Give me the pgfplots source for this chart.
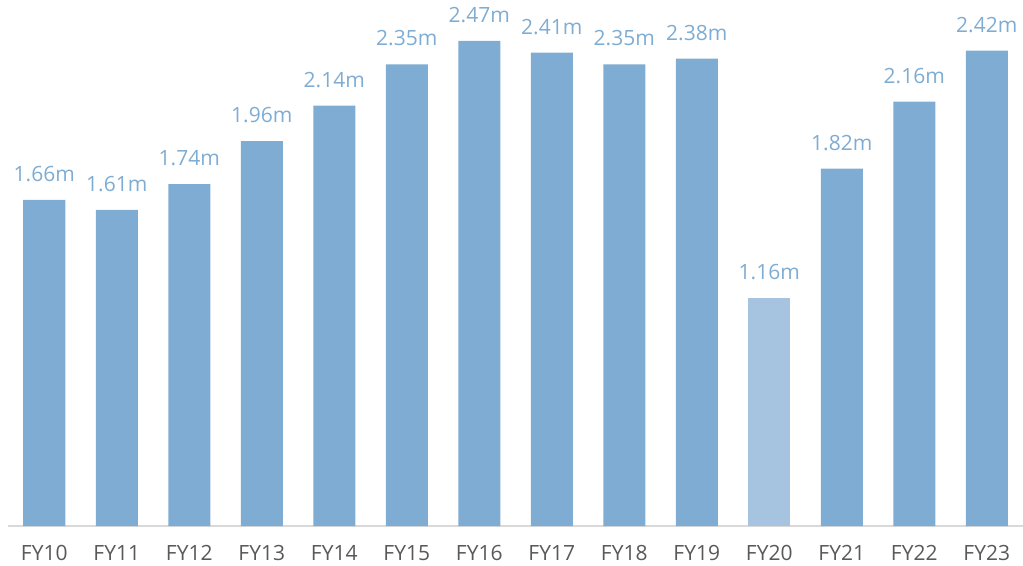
\documentclass[border=0pt]{standalone}
\usepackage{fontspec}
\setmainfont{Open Sans}
\usepackage{pgfplots}
\pgfplotsset{compat=1.18}
\definecolor{barblue}{HTML}{7FACD2}
\definecolor{barlight}{HTML}{A6C4E0}
\definecolor{lblblue}{HTML}{7FACD2}
\definecolor{tickgray}{HTML}{595959}
\definecolor{axgray}{HTML}{D9D9D9}
\begin{document}
\fontsize{21}{25}\selectfont
\begin{tikzpicture}
\begin{axis}[
    name=ax,
    scale only axis,
    width=1015pt, height=526pt,
    xmin=-0.5, xmax=13.5,
    ymin=0, ymax=2.678,
    ybar, bar width=42pt,
    hide y axis,
    axis x line*=bottom,
    x axis line style={axgray, line width=1.5pt, -},
    xtick={0,...,13},
    xticklabels={FY10,FY11,FY12,FY13,FY14,FY15,FY16,FY17,FY18,FY19,FY20,FY21,FY22,FY23},
    major tick length=0pt,
    xticklabel style={font=\fontsize{21}{25}\selectfont, text=tickgray, inner sep=0pt, anchor=north, yshift=-19pt},
    nodes near coords={\pgfmathprintnumber[fixed,fixed zerofill,precision=2,assume math mode=true]{\pgfplotspointmeta}m},
    every node near coord/.append style={font=\fontsize{21}{25}\selectfont, text=lblblue, inner sep=0pt, anchor=south, yshift=18pt},
    clip=false,
]
\addplot[fill=barblue, draw=none, bar shift=0pt] coordinates {
    (0,1.66) (1,1.61) (2,1.74) (3,1.96) (4,2.14) (5,2.35) (6,2.47)
    (7,2.41) (8,2.35) (9,2.38) (11,1.82) (12,2.16) (13,2.42)};
\addplot[fill=barlight, draw=none, bar shift=0pt] coordinates {(10,1.16)};
\end{axis}
\pgfresetboundingbox
\path (ax.south west) ++(-8pt,-39pt) rectangle (ax.north east);
\end{tikzpicture}
\end{document}
